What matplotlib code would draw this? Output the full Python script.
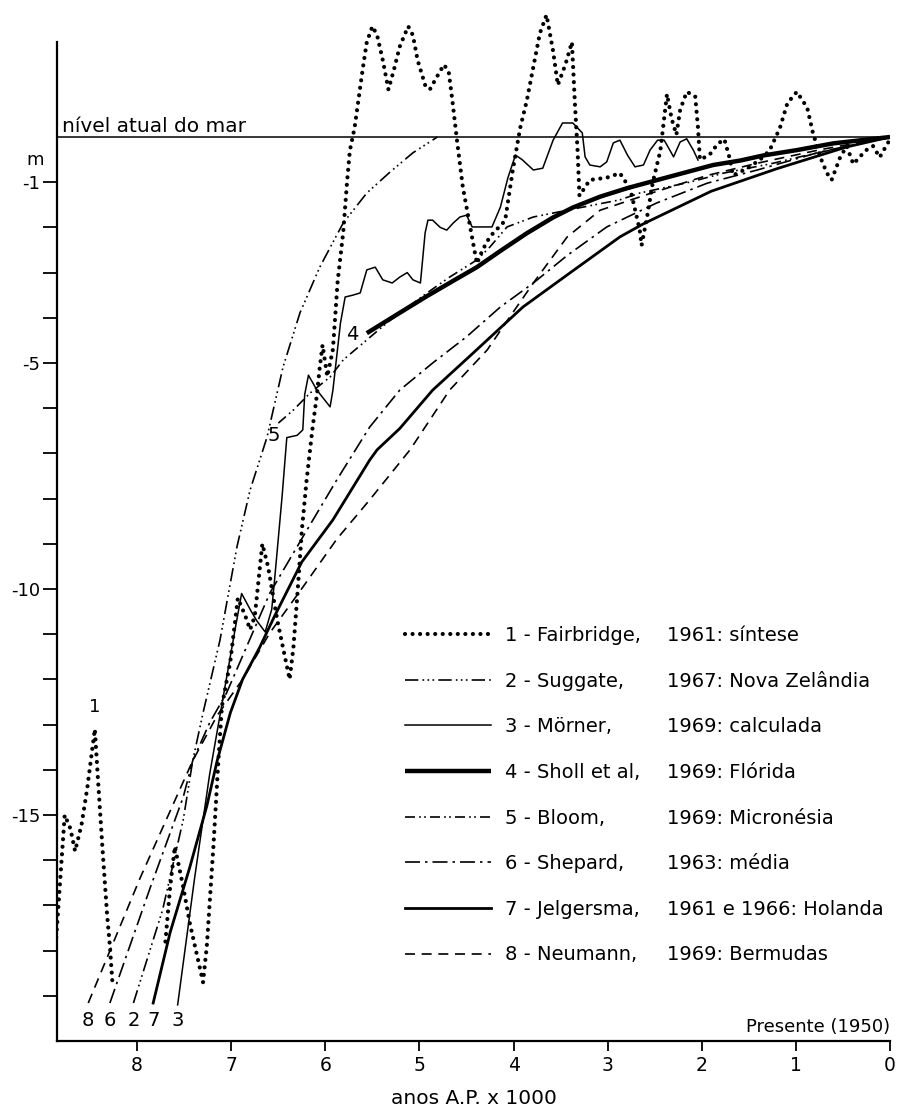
import numpy as np
import matplotlib.pyplot as plt
from matplotlib.lines import Line2D

# idade em milhares de anos A.P. / nivel do mar em metros
# 1 - Fairbridge (a curva tem uma falha entre 8.26 e 7.70)
fair_age = [8.86, 8.84, 8.81, 8.77, 8.71, 8.66, 8.59, 8.53, 8.45, 8.42, 8.37, 8.32, 8.29, 8.26,
            np.nan,
            7.70, 7.65, 7.60, 7.51, 7.44, 7.30, 7.26, 7.19, 7.14, 7.10, 7.01, 6.93, 6.85, 6.80,
            6.75, 6.67, 6.61, 6.51, 6.45, 6.38, 6.34, 6.30, 6.25, 6.20, 6.14, 6.09, 6.06, 6.03,
            5.98, 5.92, 5.87, 5.81, 5.77, 5.74, 5.69, 5.65, 5.60, 5.56, 5.50, 5.45, 5.39, 5.33,
            5.27, 5.21, 5.12, 5.07, 5.02, 4.94, 4.89, 4.81, 4.74, 4.69, 4.65, 4.60, 4.54, 4.46,
            4.39, 4.33, 4.25, 4.09, 4.01, 3.93, 3.86, 3.79, 3.72, 3.65, 3.58, 3.53, 3.45, 3.38,
            3.35, 3.32, 3.30, 3.19, 3.01, 2.87, 2.76, 2.66, 2.64, 2.58, 2.52, 2.44, 2.39, 2.37,
            2.32, 2.27, 2.23, 2.16, 2.07, 2.04, 2.02, 1.92, 1.83, 1.76, 1.70, 1.67, 1.52, 1.38,
            1.28, 1.17, 1.09, 0.99, 0.88, 0.82, 0.74, 0.67, 0.62, 0.53, 0.46, 0.39, 0.26, 0.18,
            0.11, 0.00]
fair_level = [-17.7, -17.1, -16.2, -15.0, -15.3, -15.8, -15.2, -14.4, -13.1, -14.1, -15.7, -17.2, -17.9, -18.8,
              np.nan,
              -17.8, -16.6, -15.7, -16.6, -17.4, -18.7, -17.9, -15.7, -13.9, -12.6, -11.6, -10.2, -10.6, -10.9,
              -10.6, -9.0, -9.5, -10.7, -11.3, -12.0, -11.3, -10.2, -8.7, -7.6, -6.5, -5.7, -5.1, -4.6,
              -5.3, -4.7, -3.2, -2.1, -1.0, -0.3, 0.2, 0.8, 1.55, 2.1, 2.45, 2.25, 1.7, 1.05,
              1.5, 2.0, 2.45, 2.25, 1.7, 1.15, 1.05, 1.35, 1.6, 1.45, 0.8, -0.1, -1.1, -2.0,
              -2.8, -2.5, -2.2, -1.85, -0.75, 0.2, 0.8, 1.55, 2.3, 2.7, 1.9, 1.15, 1.6, 2.1,
              0.8, -0.3, -1.3, -0.95, -0.9, -0.8, -1.15, -2.05, -2.4, -1.75, -1.0, -0.3, 0.6, 0.95,
              0.4, 0.05, 0.6, 1.0, 0.9, 0.2, -0.5, -0.4, -0.15, -0.05, -0.5, -0.85, -0.7, -0.5,
              -0.3, 0.2, 0.75, 1.0, 0.65, 0.1, -0.45, -0.8, -0.95, -0.45, -0.2, -0.6, -0.3, -0.2,
              -0.45, -0.05]

# 2 - Suggate
sug_age = [8.04, 7.73, 7.51, 7.41, 7.30, 7.12, 6.94, 6.80, 6.62, 6.45, 6.27, 6.06, 5.81, 5.56, 5.31, 5.07, 4.81]
sug_level = [-19.16, -17.1, -15.1, -13.8, -12.74, -11.13, -9.07, -7.81, -6.64, -5.09, -3.89, -2.88, -1.90,
             -1.24, -0.77, -0.35, 0.0]

# 3 - Morner
mor_age = [7.57, 7.39, 7.23, 7.07, 6.96, 6.89, 6.80, 6.73, 6.64, 6.57, 6.54, 6.46, 6.41, 6.30, 6.24, 6.22,
           6.18, 6.09, 5.95, 5.92, 5.84, 5.79, 5.71, 5.63, 5.56, 5.47, 5.39, 5.29, 5.21, 5.13, 5.07, 4.99,
           4.94, 4.91, 4.86, 4.78, 4.71, 4.64, 4.57, 4.50, 4.44, 4.23, 4.14, 4.06, 3.98, 3.91, 3.79, 3.69,
           3.58, 3.48, 3.37, 3.27, 3.24, 3.19, 3.08, 3.01, 2.94, 2.87, 2.79, 2.71, 2.62, 2.55, 2.47, 2.40,
           2.34, 2.30, 2.23, 2.16, 2.09, 2.04]
mor_level = [-19.2, -16.4, -14.1, -12.2, -10.9, -10.1, -10.45, -10.7, -10.95, -10.45, -9.8, -7.95, -6.65,
             -6.6, -6.48, -5.7, -5.27, -5.6, -5.97, -5.6, -4.12, -3.54, -3.5, -3.45, -2.94, -2.88, -3.16,
             -3.23, -3.1, -3.0, -3.16, -3.23, -2.12, -1.84, -1.84, -2.0, -2.06, -1.9, -1.77, -1.73, -1.99,
             -1.99, -1.55, -0.9, -0.4, -0.5, -0.73, -0.69, -0.07, 0.31, 0.31, 0.09, -0.44, -0.62, -0.66,
             -0.55, -0.13, -0.07, -0.4, -0.66, -0.62, -0.29, -0.07, -0.07, -0.29, -0.44, -0.11, -0.04,
             -0.29, -0.51]

# 4 - Sholl et al
sho_age = [5.56, 5.21, 4.92, 4.64, 4.39, 4.14, 3.86, 3.58, 3.37, 3.08, 2.79, 2.31, 1.88, 1.59, 1.35, 0.99, 0.60, 0.00]
sho_level = [-4.34, -3.89, -3.52, -3.18, -2.88, -2.52, -2.13, -1.78, -1.56, -1.32, -1.13, -0.86, -0.62,
             -0.52, -0.41, -0.29, -0.14, 0.0]

# 5 - Bloom
blo_age = [6.50, 6.34, 6.16, 5.95, 5.81, 5.56, 5.31, 4.92, 4.68, 4.39, 4.25, 4.07, 3.79, 3.43, 2.87, 2.66,
           2.13, 1.77, 1.24, 0.96, 0.00]
blo_level = [-6.33, -6.04, -5.66, -5.31, -4.93, -4.49, -4.05, -3.45, -3.10, -2.72, -2.43, -1.99, -1.77,
             -1.62, -1.39, -1.24, -1.00, -0.80, -0.58, -0.44, 0.0]

# 6 - Shepard
she_age = [8.29, 7.86, 7.51, 7.41, 7.23, 7.05, 6.59, 6.24, 5.88, 5.53, 5.21, 4.86, 4.50, 4.14, 3.79, 3.43,
           3.01, 2.48, 1.94, 1.41, 0.74, 0.00]
she_level = [-19.16, -16.6, -14.6, -13.8, -12.96, -12.3, -10.09, -8.85, -7.59, -6.42, -5.6, -5.0, -4.42,
             -3.76, -3.23, -2.62, -1.99, -1.46, -1.02, -0.73, -0.33, 0.0]

# 7 - Jelgersma
jel_age = [7.83, 7.65, 7.44, 7.26, 7.15, 7.01, 6.88, 6.70, 6.54, 6.25, 5.92, 5.53, 5.45, 5.21, 4.86, 4.43,
           3.90, 3.37, 2.87, 2.62, 1.90, 1.20, 0.46, 0.00]
jel_level = [-19.16, -17.6, -16.15, -14.8, -13.8, -12.74, -12.0, -11.3, -10.6, -9.4, -8.47, -7.15, -6.92,
             -6.45, -5.6, -4.78, -3.76, -2.96, -2.21, -1.92, -1.2, -0.7, -0.22, 0.0]

# 8 - Neumann
neu_age = [8.52, 7.97, 7.41, 7.15, 6.88, 6.59, 6.24, 5.88, 5.53, 5.10, 4.68, 4.28, 4.04, 3.79, 3.43, 3.08,
           2.55, 1.94, 1.41, 0.74, 0.00]
neu_level = [-19.16, -16.4, -13.8, -12.8, -12.0, -10.97, -9.96, -8.9, -8.03, -6.92, -5.6, -4.71, -3.98,
             -3.23, -2.21, -1.62, -1.25, -0.85, -0.58, -0.28, 0.0]

names = ["1 - Fairbridge,", "2 - Suggate,", "3 - Mörner,", "4 - Sholl et al,",
         "5 - Bloom,", "6 - Shepard,", "7 - Jelgersma,", "8 - Neumann,"]
years = ["1961: síntese", "1967: Nova Zelândia", "1969: calculada", "1969: Flórida",
         "1969: Micronésia", "1963: média", "1961 e 1966: Holanda", "1969: Bermudas"]

fig = plt.figure(figsize=(9, 11.11), dpi=100)
ax = fig.add_axes([57 / 900, 70 / 1111, 833 / 900, 1039.6 / 1111])
ax.set_xlim(8.852, 0)
ax.set_ylim(-20, 3.0)

k = "black"
l1, = ax.plot(fair_age, fair_level, color=k, lw=3.0, linestyle=(0, (0.01, 1.8)), dash_capstyle="round")
l2, = ax.plot(sug_age, sug_level, color=k, lw=1.2, linestyle=(0, (8, 2.5, 1, 2, 1, 2, 1, 2.5)))
l3, = ax.plot(mor_age, mor_level, color=k, lw=1.1)
l4, = ax.plot(sho_age, sho_level, color=k, lw=3.2, solid_capstyle="butt")
l5, = ax.plot(blo_age, blo_level, color=k, lw=1.2, linestyle=(0, (6, 2.5, 1, 2, 1, 2.5)))
l6, = ax.plot(she_age, she_level, color=k, lw=1.2, linestyle=(0, (9, 3, 1.5, 3)))
l7, = ax.plot(jel_age, jel_level, color=k, lw=2.0)
l8, = ax.plot(neu_age, neu_level, color=k, lw=1.2, linestyle=(0, (6, 4)))
lines = [l1, l2, l3, l4, l5, l6, l7, l8]

# nivel atual do mar
ax.axhline(0, color=k, lw=1.1)
ax.text(8.80, 0.1, "nível atual do mar", fontsize=14.5, ha="left", va="baseline")

# numeros das curvas
for lab, x0 in zip(["8", "6", "2", "7", "3"],
                   [neu_age[0], she_age[0], sug_age[0], jel_age[0], mor_age[0]]):
    ax.text(x0, -19.55, lab, fontsize=14, ha="center", va="center")
ax.text(8.45, -12.6, "1", fontsize=13, ha="center", va="center")
ax.text(5.71, -4.38, "4", fontsize=14, ha="center", va="center")
ax.text(6.55, -6.6, "5", fontsize=14, ha="center", va="center")
ax.text(0, -19.8, "Presente (1950)", fontsize=13, ha="right", va="baseline")

# eixos
for s in ["top", "right"]:
    ax.spines[s].set_visible(False)
ax.spines["left"].set_linewidth(1.6)
ax.spines["bottom"].set_linewidth(1.6)
ax.spines["left"].set_bounds(-20, 2.1)

ax.set_yticks([-1, -5, -10, -15])
ax.set_yticklabels(["-1", "-5", "-10", "-15"])
ax.set_yticks([v for v in range(-19, -1) if v not in (-5, -10, -15)], minor=True)
ax.set_xticks(range(8, -1, -1))
ax.set_xticklabels([str(v) for v in range(8, -1, -1)])
ax.tick_params(axis="y", which="both", direction="out", length=10, width=1.3, labelsize=13, pad=2)
ax.tick_params(axis="x", direction="out", length=7, width=1.3, labelsize=13.5, pad=4)
ax.set_xlabel("anos A.P. x 1000", fontsize=14.5, labelpad=10)
fig.text(35 / 900, 1 - 160 / 1111, "m", fontsize=13, ha="center", va="center")

# legenda em duas colunas
leg1 = ax.legend(lines, names, loc="upper left", bbox_to_anchor=(405 / 900, 1 - 626 / 1111),
                 bbox_transform=fig.transFigure, frameon=False, fontsize=14,
                 handlelength=4.4, handletextpad=0.72, labelspacing=1.37,
                 borderpad=0, borderaxespad=0)
ax.add_artist(leg1)
blank = [Line2D([], [], linestyle="none") for _ in years]
leg2 = ax.legend(blank, years, loc="upper left", bbox_to_anchor=(667 / 900, 1 - 626 / 1111),
                 bbox_transform=fig.transFigure, frameon=False, fontsize=14,
                 handlelength=0, handletextpad=0, labelspacing=1.37,
                 borderpad=0, borderaxespad=0)

fig.savefig("out.png", dpi=100)
